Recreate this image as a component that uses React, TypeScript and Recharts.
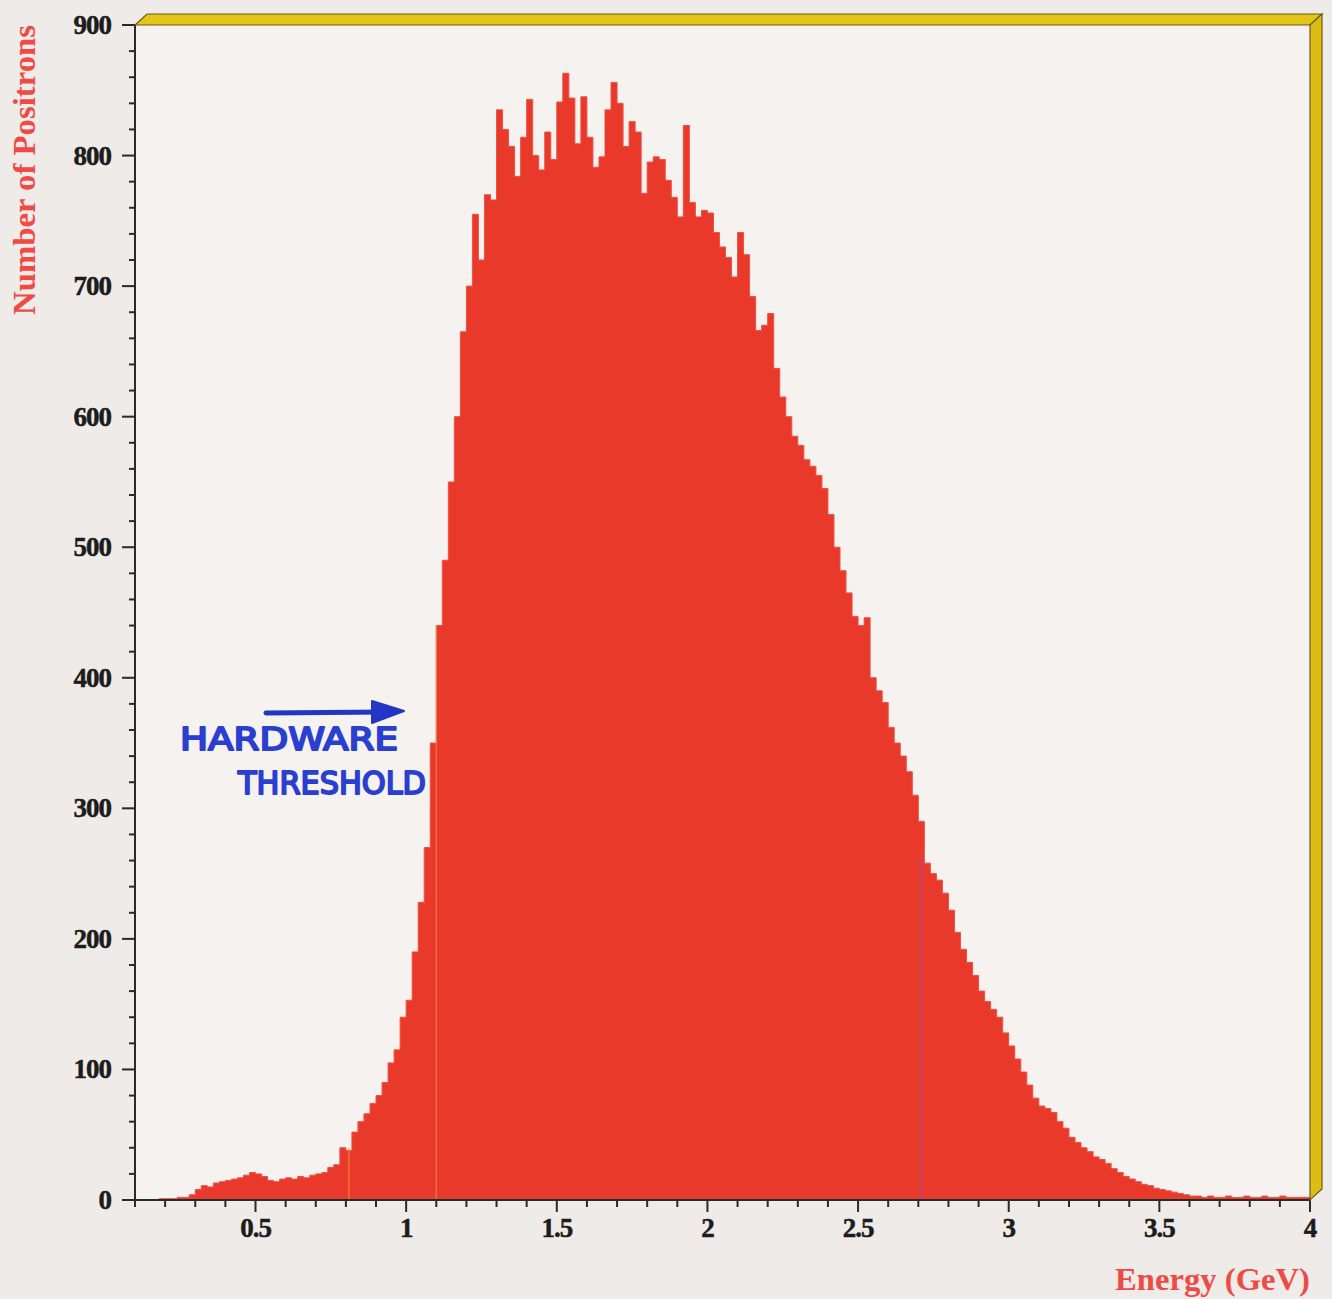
import React from 'react';
import { AreaChart, Area, XAxis, YAxis, ReferenceLine } from 'recharts';

// Histogram of positron energies: bins of 0.02 GeV starting at 0.10 GeV
const binStart = 0.1;
const binWidth = 0.02;
const counts = [
  0, 0, 0, 0, 1, 1, 1, 2, 2, 4,
  8, 11, 10, 13, 14, 15, 16, 17, 19, 21,
  20, 18, 15, 14, 16, 17, 16, 18, 17, 19,
  20, 21, 25, 27, 40, 38, 52, 60, 66, 74,
  80, 90, 105, 115, 140, 153, 190, 228, 270, 350,
  440, 490, 550, 600, 665, 700, 755, 720, 770, 766,
  835, 820, 807, 784, 814, 843, 800, 789, 818, 797,
  841, 863, 844, 809, 845, 814, 791, 799, 835, 856,
  840, 807, 826, 818, 771, 795, 799, 797, 781, 768,
  753, 823, 764, 753, 758, 756, 741, 730, 722, 707,
  741, 724, 692, 666, 670, 679, 637, 615, 600, 585,
  578, 567, 562, 555, 545, 525, 500, 482, 465, 447,
  440, 446, 400, 390, 381, 362, 350, 340, 328, 310,
  290, 258, 250, 245, 235, 222, 205, 192, 182, 172,
  160, 152, 146, 140, 128, 118, 108, 98, 88, 78,
  72, 70, 67, 60, 55, 48, 44, 40, 37, 33,
  31, 28, 24, 21, 18, 16, 14, 12, 11, 9,
  8, 7, 6, 5, 4, 3, 3, 2, 3, 2,
  2, 3, 2, 2, 3, 2, 2, 3, 2, 2,
  3, 2, 2, 2, 2,
];

const xTicks = [
  0.1, 0.2, 0.3, 0.4, 0.5, 0.6, 0.7, 0.8, 0.9, 1.0,
  1.1, 1.2, 1.3, 1.4, 1.5, 1.6, 1.7, 1.8, 1.9, 2.0,
  2.1, 2.2, 2.3, 2.4, 2.5, 2.6, 2.7, 2.8, 2.9, 3.0,
  3.1, 3.2, 3.3, 3.4, 3.5, 3.6, 3.7, 3.8, 3.9, 4.0,
];
const xLabelTicks = [0.5, 1, 1.5, 2, 2.5, 3, 3.5, 4];
const yTicks = [
  0, 20, 40, 60, 80, 100, 120, 140, 160, 180,
  200, 220, 240, 260, 280, 300, 320, 340, 360, 380,
  400, 420, 440, 460, 480, 500, 520, 540, 560, 580,
  600, 620, 640, 660, 680, 700, 720, 740, 760, 780,
  800, 820, 840, 860, 880, 900,
];
const yLabelTicks = [0, 100, 200, 300, 400, 500, 600, 700, 800, 900];

// faint scan artefact lines in the histogram (energy, height)
const artefactLines = [
  { e: 0.81, top: 40, color: '#f0a040' },
  { e: 1.1, top: 440, color: '#f0a040' },
  { e: 2.71, top: 262, color: '#8a4fd0' },
];

const data = counts.map((c, i) => ({ e: +(binStart + i * binWidth).toFixed(2), n: c }));
data.push({ e: 4.0, n: counts[counts.length - 1] });

const W = 1332;
const H = 1299;
const PLOT_L = 135;
const PLOT_R = 1310;
const PLOT_T = 25;
const PLOT_B = 1200;

const isMajor = (v: number, list: number[]) => list.some((t) => Math.abs(t - v) < 1e-6);
const fmt = (v: number) => (Math.abs(v - Math.round(v)) < 1e-6 ? String(Math.round(v)) : v.toFixed(1));

const XTick = (props: any) => {
  const { x, y, payload } = props;
  const v = payload.value;
  const major = isMajor(v, xLabelTicks);
  return (
    <g>
      <line x1={x} x2={x} y1={y} y2={y + (major ? 12 : 7)} stroke="#2a2a2a" strokeWidth={2} />
      {major && (
        <text
          x={x}
          y={y + 37}
          textAnchor="middle"
          fontFamily="'Liberation Serif', 'Times New Roman', serif"
          fontWeight="bold"
          fontSize={27}
          fill="#1c1c1c"
          stroke="#1c1c1c"
          strokeWidth={0.5}
          letterSpacing={-1}
        >
          {fmt(v)}
        </text>
      )}
    </g>
  );
};

const YTick = (props: any) => {
  const { x, y, payload } = props;
  const v = payload.value;
  const major = isMajor(v, yLabelTicks);
  return (
    <g>
      <line x1={x} x2={x - (major ? 13 : 6)} y1={y} y2={y} stroke="#2a2a2a" strokeWidth={2} />
      {major && (
        <text
          x={x - 24}
          y={y + 9}
          textAnchor="end"
          fontFamily="'Liberation Serif', 'Times New Roman', serif"
          fontWeight="bold"
          fontSize={27}
          fill="#1c1c1c"
          stroke="#1c1c1c"
          strokeWidth={0.5}
          letterSpacing={-1}
        >
          {v}
        </text>
      )}
    </g>
  );
};

export default function App() {
  return (
    <div style={{ position: 'absolute', left: 0, top: 0, width: W, height: H, background: '#efebe8' }}>
      <svg width={W} height={H} style={{ position: 'absolute', left: 0, top: 0 }}>
        <rect x={PLOT_L} y={PLOT_T} width={PLOT_R - PLOT_L} height={PLOT_B - PLOT_T} fill="#f5f2f0" />
      </svg>
      <div style={{ position: 'absolute', left: 0, top: 0 }}>
        <AreaChart width={W} height={H} data={data} margin={{ top: PLOT_T, right: W - PLOT_R, bottom: 39, left: 0 }}>
          <XAxis
            dataKey="e"
            type="number"
            domain={[0.1, 4]}
            ticks={xTicks}
            interval={0}
            allowDataOverflow
            height={60}
            tickSize={0}
            tickMargin={0}
            tickLine={false}
            tick={<XTick />}
            axisLine={{ stroke: '#2a2a2a', strokeWidth: 2 }}
          />
          <YAxis
            type="number"
            domain={[0, 900]}
            ticks={yTicks}
            interval={0}
            width={PLOT_L}
            tickSize={0}
            tickMargin={0}
            tickLine={false}
            tick={<YTick />}
            axisLine={{ stroke: '#2a2a2a', strokeWidth: 2 }}
          />
          <Area
            type="stepAfter"
            dataKey="n"
            fill="#e8392b"
            fillOpacity={1}
            stroke="#ee5044"
            strokeWidth={1}
            dot={false}
            activeDot={false}
            isAnimationActive={false}
          />
          {artefactLines.map((l) => (
            <ReferenceLine
              key={l.e}
              segment={[{ x: l.e, y: 0 }, { x: l.e, y: l.top }]}
              stroke={l.color}
              strokeOpacity={0.55}
              strokeWidth={1.5}
            />
          ))}
        </AreaChart>
      </div>
      <svg width={W} height={H} style={{ position: 'absolute', left: 0, top: 0, pointerEvents: 'none' }}>
        {/* 3D yellow frame */}
        <polygon
          points={`${PLOT_L},${PLOT_T} ${PLOT_L + 12},${PLOT_T - 11} ${PLOT_R + 12},${PLOT_T - 11} ${PLOT_R},${PLOT_T}`}
          fill="#e3c519"
          stroke="#6e5c14"
          strokeWidth={1.2}
        />
        <polygon
          points={`${PLOT_R},${PLOT_T} ${PLOT_R + 12},${PLOT_T - 11} ${PLOT_R + 12},${PLOT_B - 11} ${PLOT_R},${PLOT_B}`}
          fill="#dcbd14"
          stroke="#6e5c14"
          strokeWidth={1.2}
        />
        {/* axis titles */}
        <text
          x={35}
          y={170}
          transform="rotate(-90, 35, 170)"
          textAnchor="middle"
          fontFamily="'Liberation Serif', 'Times New Roman', serif"
          fontWeight="bold"
          fontSize={31}
          fill="#f04a45"
          textLength={290}
          lengthAdjust="spacingAndGlyphs"
        >
          Number of Positrons
        </text>
        <text
          x={1310}
          y={1290}
          textAnchor="end"
          fontFamily="'Liberation Serif', 'Times New Roman', serif"
          fontWeight="bold"
          fontSize={32}
          fill="#f04a45"
          textLength={195}
          lengthAdjust="spacingAndGlyphs"
        >
          Energy (GeV)
        </text>
        {/* handwritten annotation */}
        <line x1={266} y1={713} x2={385} y2={712} stroke="#2236c4" strokeWidth={5} strokeLinecap="round" />
        <polygon points="372,701 404,711 372,723" fill="#2236c4" stroke="#2236c4" strokeWidth={2} strokeLinejoin="round" />
        <text
          x={180}
          y={750}
          fontFamily="'DejaVu Sans', sans-serif"
          fontSize={32}
          fill="#2a3fd0"
          stroke="#2a3fd0"
          strokeWidth={2}
          strokeLinejoin="round"
          textLength={218}
          lengthAdjust="spacingAndGlyphs"
        >
          HARDWARE
        </text>
        <text
          x={238}
          y={794}
          fontFamily="'DejaVu Sans', sans-serif"
          fontSize={32}
          fill="#2a3fd0"
          stroke="#2a3fd0"
          strokeWidth={2}
          strokeLinejoin="round"
          textLength={188}
          lengthAdjust="spacingAndGlyphs"
        >
          THRESHOLD
        </text>
      </svg>
    </div>
  );
}
